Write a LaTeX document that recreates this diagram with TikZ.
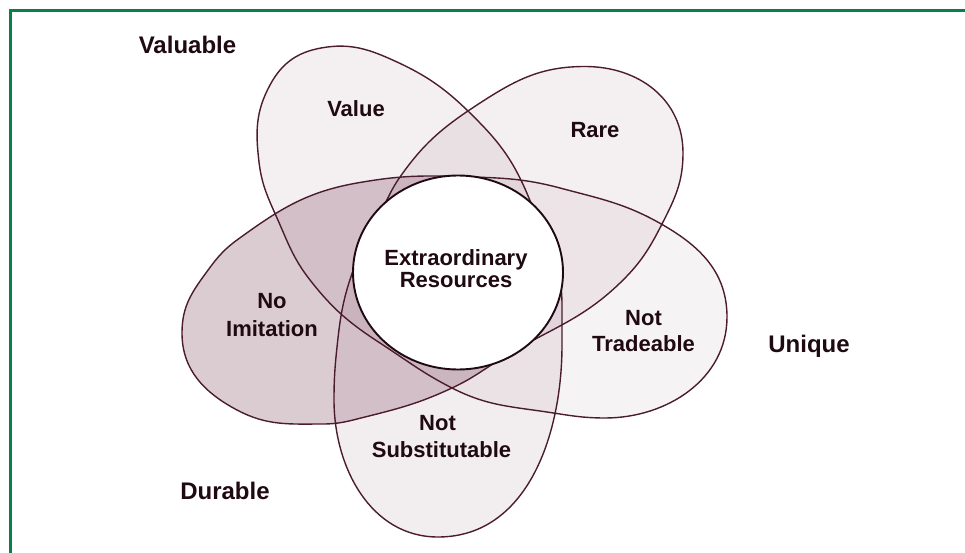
\documentclass[tikz,border=0pt]{standalone}
\usepackage{fontspec}
\setmainfont{Liberation Sans}
\definecolor{petal}{RGB}{110,50,75}
\definecolor{edgec}{RGB}{75,28,45}
\definecolor{ringc}{RGB}{30,10,18}
\definecolor{inkc}{RGB}{30,10,16}
\definecolor{framec}{RGB}{8,128,72}
% the five lobe arcs of the flower outline (screen y negated)
\def\arcV{(531,-203) to[out=112,in=314.5] (479,-122)
  to[out=134.5,in=335.2] (397,-62)
  to[out=155.2,in=10.3] (321,-48)
  to[out=190.3,in=61.6] (270,-85)
  to[out=241.6,in=96.8] (259,-162)
  to[out=276.8,in=114] (277,-218)
  to[out=294,in=128] (310,-280)
  to[out=308,in=147] (380,-343)}
\def\arcNT{(380,-343) to[out=327,in=153] (452,-388)
  to[out=333,in=172] (540,-411)
  to[out=352,in=180] (605,-418)
  to[out=0,in=270] (727,-317)
  to[out=90,in=330] (663,-225)
  to[out=150,in=345] (560,-188)
  to[out=165,in=358] (457,-176.5)}
\def\arcNI{(457,-176.5) to[out=178,in=10] (357,-183)
  to[out=190,in=36] (237,-240)
  to[out=216,in=54] (203,-277)
  to[out=234,in=90] (182,-333)
  to[out=270,in=152] (237,-410)
  to[out=332,in=180] (323,-424)
  to[out=0,in=194] (365,-417)
  to[out=14,in=205] (452,-388)
  to[out=25,in=211] (507,-355)}
\def\arcR{(507,-355) to[out=31,in=224] (620,-283)
  to[out=44,in=243] (662,-224)
  to[out=63,in=270] (683,-153)
  to[out=90,in=0,looseness=1.05] (585,-66.5)
  to[out=180,in=33] (480,-103)
  to[out=213,in=55] (400,-177)
  to[out=235,in=63] (381,-212)}
\def\arcNS{(381,-212) to[out=243,in=70] (354,-268)
  to[out=250,in=84] (337,-347)
  to[out=264,in=90] (334,-400)
  to[out=270,in=180] (438,-537)
  to[out=0,in=270] (562,-345)
  to[out=90,in=270] (562,-305)
  to[out=90,in=292] (531,-203)}
\begin{document}
\begin{tikzpicture}[x=1pt,y=1pt,
  lbl/.style={font=\fontsize{22}{26}\selectfont\bfseries, text=inkc, anchor=base, inner sep=0pt},
  biglbl/.style={font=\fontsize{24}{28}\selectfont\bfseries, text=inkc, anchor=base, inner sep=0pt},
  lobefill/.style={fill=petal, draw=none},
  outline/.style={draw=edgec, line width=1.4pt, line cap=round, line join=round}]
\useasboundingbox (0,-553) rectangle (965,0);
% frame
\fill[framec] (9,-9) rectangle (965,-12);
\fill[framec] (9,-9) rectangle (12,-553);
% lobe fills
\fill[lobefill, fill opacity=0.08] \arcV -- cycle;
\fill[lobefill, fill opacity=0.06] \arcNT -- cycle;
\fill[lobefill, fill opacity=0.25] \arcNI -- cycle;
\fill[lobefill, fill opacity=0.08] \arcR -- cycle;
\fill[lobefill, fill opacity=0.085] \arcNS -- cycle;
% outline
\path[outline] \arcV \arcNT \arcNI \arcR \arcNS;
% central circle
\draw[ringc, fill=white, line width=1.9pt] (458,-272.5) ellipse [x radius=105, y radius=97];
% labels
\node[lbl] (ext1) at (456,-265.7) {Extraordinary};
\node[lbl] (ext2) at (456,-287.3) {Resources};
\node[lbl] (val) at (356,-117) {Value};
\node[lbl] (rare) at (595,-138) {Rare};
\node[lbl] (ni1) at (272,-308) {No};
\node[lbl] (ni2) at (272,-336) {Imitation};
\node[lbl] (nt1) at (643.5,-325) {Not};
\node[lbl] (nt2) at (643.5,-351) {Tradeable};
\node[lbl] (ns1) at (437.5,-430) {Not};
\node[lbl] (ns2) at (441.5,-457) {Substitutable};
\node[biglbl] (valuable) at (187.5,-53.3) {Valuable};
\node[biglbl] (unique) at (809,-352) {Unique};
\node[biglbl] (durable) at (225,-499) {Durable};
\end{tikzpicture}
\end{document}
